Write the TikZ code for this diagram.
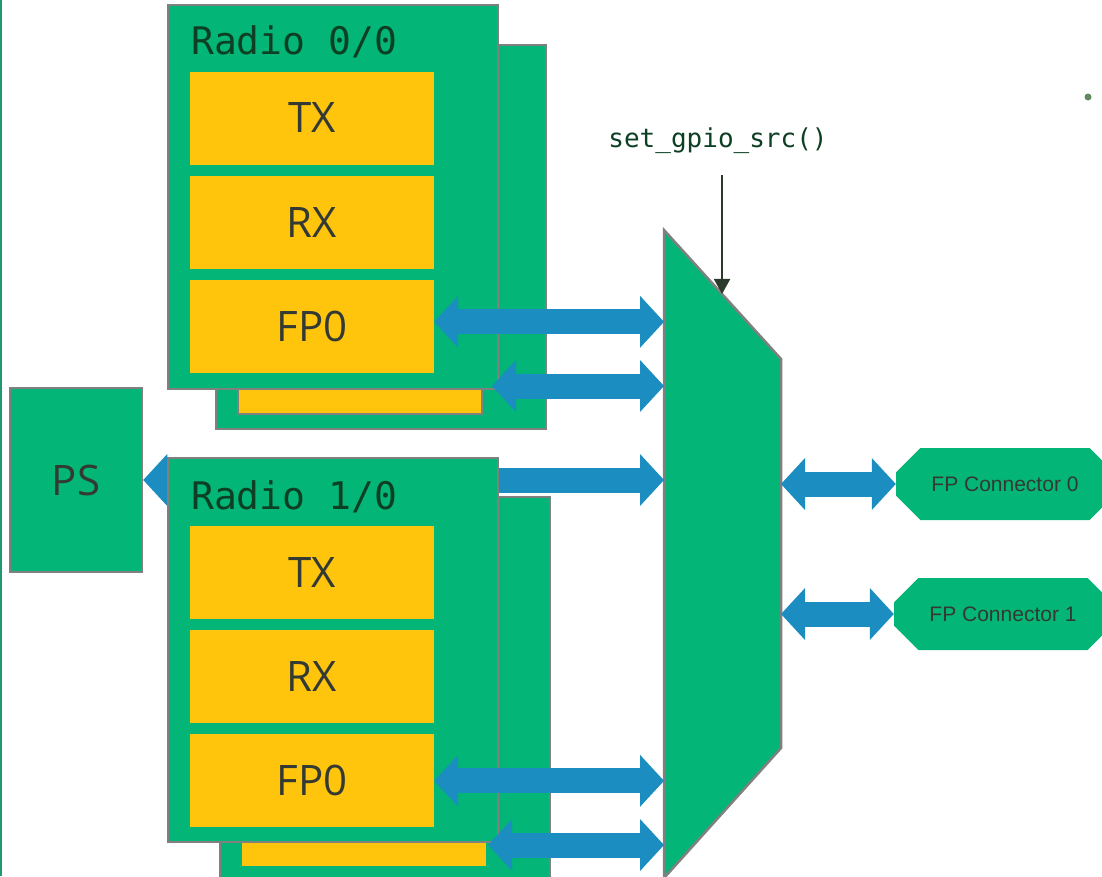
\documentclass[tikz,border=0pt]{standalone}
\usepackage{fontspec}
\usepackage{xcolor}
\usepackage{tikz}
\usetikzlibrary{positioning, arrows.meta, shapes.misc, calc}
\newfontfamily\blockfont{Open Sans}
\newfontfamily\codefont{DejaVu Sans Mono}
\newfontfamily\connfont{Liberation Sans}
\definecolor{rdGreen}{HTML}{03B576}
\definecolor{rdGrey}{HTML}{808080}
\definecolor{rdYellow}{HTML}{FFC50D}
\definecolor{rdBlue}{HTML}{1B8DC1}
\definecolor{rdText}{HTML}{333A33}
\definecolor{rdLabel}{HTML}{0D3F24}
\definecolor{rdCtrl}{HTML}{2B3A2B}
\definecolor{rdDot}{HTML}{5E8A5E}
\definecolor{rdStrip}{HTML}{1E9B6E}
\tikzset{
  radio/.style={
    rectangle, draw=rdGrey, line width=2.5pt,
    fill=rdGreen, inner sep=0pt,
    minimum width=330pt, minimum height=384pt
  },
  block/.style={
    rectangle, fill=rdYellow, inner sep=0pt,
    minimum width=244pt, minimum height=93pt,
    text=rdText, font=\blockfont\fontsize{42}{50}\selectfont
  },
  radiolabel/.style={
    anchor=base west, inner sep=0pt,
    text=rdLabel, font=\codefont\fontsize{38}{44}\selectfont
  },
  psbox/.style={
    rectangle, draw=rdGrey, line width=2.5pt,
    fill=rdGreen, inner sep=0pt,
    minimum width=132pt, minimum height=184pt,
    text=rdText, font=\blockfont\fontsize{42}{50}\selectfont
  },
  mux/.style={draw=rdGrey, line width=2.5pt, fill=rdGreen, line join=miter},
  connbox/.style={
    chamfered rectangle, fill=rdGreen, inner sep=0pt,
    chamfered rectangle xsep=21pt, chamfered rectangle ysep=17pt,
    minimum width=218pt, minimum height=72pt,
    text=rdText, font=\connfont\fontsize{21}{25}\selectfont
  },
  codelabel/.style={inner sep=0pt, text=rdLabel, font=\codefont\fontsize{26}{30}\selectfont},
  bus/.style={
    {Triangle[length=24pt 0 0, width=52pt 0 0, line width=0pt 0 0]}-{Triangle[length=24pt 0 0, width=52pt 0 0, line width=0pt 0 0]},
    rdBlue, line width=25pt
  },
  ctrl/.style={-{Triangle[length=15pt 0 0, width=16pt 0 0]}, rdCtrl, line width=2pt}
}
\begin{document}
\begin{tikzpicture}[x=1pt, y=-1pt]
        \clip (0,0) rectangle (1102,876);
        \fill[white] (0,0) rectangle (1102,876);
        \fill[rdStrip] (0,0) rectangle (2,876);
        \fill[rdDot] (1088,97) circle (3.5pt);
        \node[psbox] (ps) at (76,480) {PS};
        \draw[mux] (664,230) coordinate (muxtl) -- (781,359) coordinate (muxtr)
          -- (781,748) coordinate (muxbr) -- (664,878) coordinate (muxbl) -- cycle;
        \path (muxtl) -- (muxtr) coordinate[pos=0.496] (muxsel);
        \draw[bus] (ps.east) -- (ps.east -| muxtl);
        \node[radio] (radioab) at (381,237) {};
        \node[block, draw=rdGrey, line width=2pt] (fp0ab) at (360,367) {};
        \node[radio] (radioa) at (333,197) {};
        \node[radiolabel] (lbla) at (191,54) {Radio 0/0};
        \node[block] (txa) at (312,118) {TX};
        \node[block, below=11pt of txa] (rxa) {RX};
        \node[block, below=11pt of rxa] (fp0a) {FP0};
        \node[radio] (radiobb) at (385,689) {};
        \node[block] (fp0bb) at (364,819) {};
        \node[radio] (radiob) at (333,650) {};
        \node[radiolabel] (lblb) at (191,509) {Radio 1/0};
        \node[block] (txb) at (312,572) {TX};
        \node[block, below=11pt of txb] (rxb) {RX};
        \node[block, below=11pt of rxb] (fp0b) {FP0};
        \draw[bus] ([yshift=5pt]fp0a.east) coordinate (busa) -- (busa -| muxtl);
        \draw[bus] ([xshift=9pt, yshift=-19pt]fp0ab.east) coordinate (busab) -- (busab -| muxtl);
        \draw[bus] (fp0b.east) -- (fp0b.east -| muxtl);
        \draw[bus] ([xshift=2pt, yshift=-26pt]fp0bb.east) coordinate (busbb) -- (busbb -| muxtl);
        \node[connbox] (conn0) at (1005,484) {FP Connector 0};
        \node[connbox] (conn1) at (1003,614) {FP Connector 1};
        \draw[bus] (conn0.west -| muxtr) -- (conn0.west);
        \draw[bus] (conn1.west -| muxtr) -- (conn1.west);
        \node[codelabel] (gpio) at (718,141) {set\_gpio\_src()};
        \draw[ctrl] ([yshift=-21pt]muxsel |- gpio.south) -- (muxsel);
      \end{tikzpicture}
\end{document}
